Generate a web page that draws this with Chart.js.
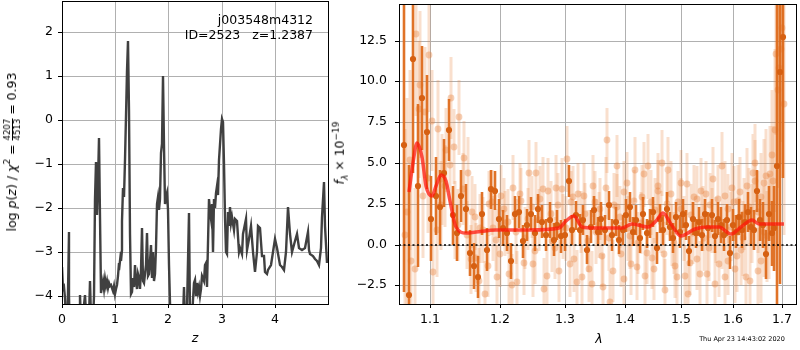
<!DOCTYPE html>
<html>
<head>
<meta charset="utf-8">
<script src="https://cdn.jsdelivr.net/npm/chart.js@4.4.1/dist/chart.umd.min.js"></script>
<style>
  body { margin: 0; background: #fff; }
  #wrap { position: relative; width: 800px; height: 350px; font-family: 'DejaVu Sans', sans-serif; font-size: 12.5px; color: #000; line-height: 1; }
  canvas { position: absolute; top: 0; }
  .lbl { position: absolute; white-space: pre; transform: translate(-50%, -50%); }
  .rot { transform: translate(-50%, -50%) rotate(-90deg); }
  .frac { display: inline-flex; flex-direction: column; font-size: 8.5px; line-height: 8.5px; vertical-align: middle; text-align: center; }
  .frac .den { border-top: 1px solid #000; }
  sup, sub { font-size: 9px; line-height: 0; }
</style>
</head>
<body>
<div id="wrap">
  <canvas id="pz" width="336" height="350" style="left:0"></canvas>
  <canvas id="spec" width="464" height="350" style="left:336px"></canvas>

  <div class="lbl rot" style="left:12px;top:152px">log <i>p</i>(<i>z</i>) / <i>χ</i><sup>2</sup> = <span class="frac"><span>4207</span><span class="den">4513</span></span> = 0.93</div>
  <div class="lbl" style="left:195px;top:338px"><i>z</i></div>
  <div style="position:absolute;right:487px;top:12px;text-align:right;line-height:15px;white-space:pre">j003548m4312
ID=2523   z=1.2387</div>

  <div class="lbl rot" style="left:340px;top:153px"><i>f</i><sub><i>λ</i></sub> × 10<sup>−19</sup></div>
  <div class="lbl" style="left:599px;top:339px"><i>λ</i></div>
  <div class="lbl" style="left:742px;top:339px;font-size:6.5px">Thu Apr 23 14:43:02 2020</div>
</div>

<script>
// ---- redshift probability (left) ----
const zGrid = [
  0.00,0.02,0.04,0.06,0.08,0.10,0.12,0.13,0.14,0.17,
  0.22,0.28,0.33,0.345,0.36,0.40,0.42,0.44,0.47,0.50,
  0.53,0.55,0.58,0.60,0.62,0.635,0.645,0.655,0.665,0.68,
  0.695,0.71,0.73,0.75,0.77,0.79,0.81,0.83,0.85,0.87,
  0.89,0.91,0.93,0.95,0.97,0.99,1.01,1.03,1.05,1.07,
  1.08,1.10,1.11,1.12,1.135,1.15,1.165,1.18,1.20,1.22,
  1.235,1.25,1.27,1.29,1.31,1.33,1.35,1.37,1.39,1.41,
  1.43,1.45,1.47,1.49,1.51,1.53,1.55,1.57,1.59,1.61,
  1.63,1.65,1.67,1.69,1.71,1.73,1.75,1.77,1.79,1.80,
  1.82,1.84,1.86,1.88,1.90,1.92,1.94,1.96,1.98,2.00,
  2.02,2.04,2.06,2.15,2.25,2.28,2.30,2.32,2.35,2.38,
  2.40,2.43,2.46,2.48,2.50,2.52,2.54,2.56,2.58,2.60,
  2.62,2.64,2.66,2.68,2.70,2.72,2.74,2.76,2.78,2.80,
  2.82,2.84,2.86,2.88,2.90,2.92,2.94,2.96,2.98,3.00,
  3.02,3.04,3.06,3.08,3.10,3.12,3.14,3.16,3.18,3.20,
  3.23,3.26,3.29,3.32,3.35,3.38,3.41,3.45,3.48,3.51,
  3.55,3.59,3.63,3.66,3.69,3.73,3.76,3.79,3.82,3.85,
  3.88,3.92,3.96,4.01,4.05,4.09,4.13,4.17,4.21,4.25,
  4.29,4.33,4.38,4.42,4.46,4.51,4.56,4.62,4.65,4.67,
  4.71,4.76,4.80,4.83,4.86,4.89,4.92,4.95,4.99
];
const logPz = [
  -3.33,-3.85,-3.8,-4.05,-4.6,-5.0,-3.9,-2.55,-4.0,-6,
  -7,-6,-4.6,-3.98,-4.6,-4.8,-4.2,-3.98,-4.8,-4.5,
  -3.66,-4.5,-4.6,-4.0,-1.8,-0.96,-2.0,-1.0,-2.16,-1.4,
  -0.41,-2.2,-3.93,-3.8,-3.65,-3.85,-3.62,-3.78,-3.65,-3.82,
  -3.7,-3.78,-3.75,-3.88,-3.78,-3.95,-3.85,-3.75,-3.55,-3.25,
  -3.4,-3.0,-3.2,-2.95,-2.3,-1.55,-1.75,-0.9,0.1,1.1,
  1.8,0.2,-2.6,-3.95,-3.9,-3.6,-3.8,-3.3,-3.65,-3.85,
  -3.5,-3.6,-3.85,-3.4,-2.45,-3.65,-3.7,-3.3,-2.57,-3.55,
  -3.5,-3.2,-2.85,-3.6,-3.0,-3.65,-3.5,-2.9,-1.9,-1.75,
  -2.05,-1.8,-0.75,-0.55,1.0,-0.6,-1.9,-1.75,-1.65,-2.05,
  -3.3,-5,-7,-8,-6,-4.5,-3.8,-4.6,-4.3,-2.12,
  -4.4,-5,-4.1,-3.7,-3.64,-4.0,-3.7,-3.9,-3.8,-4.0,
  -3.85,-3.55,-3.65,-3.3,-3.25,-3.8,-2.8,-1.8,-2.1,-2.25,
  -1.9,-3.0,-1.8,-2.0,-1.65,-1.5,-1.7,-0.9,-0.2,0.03,
  -0.05,-1.0,-2.2,-3.0,-3.05,-2.1,-2.4,-1.97,-2.35,-2.2,
  -2.5,-2.25,-2.3,-3.0,-2.9,-3.05,-2.6,-2.26,-2.95,-2.7,
  -2.4,-3.0,-3.45,-3.0,-2.4,-2.45,-3.1,-3.1,-3.45,-3.5,
  -3.4,-3.3,-3.0,-2.7,-2.9,-3.3,-3.35,-3.41,-3.0,-1.97,
  -2.6,-3.0,-2.75,-2.58,-2.9,-2.95,-2.9,-2.55,-2.95,-3.05,
  -3.1,-3.15,-3.2,-3.3,-2.9,-2.2,-1.42,-2.4,-3.25
];
const zTicks = [0, 1, 2, 3, 4];
const pzTicks = [-4, -3, -2, -1, 0, 1, 2];

// ---- spectrum (right) ----
// combined spectrum (solid points)
const specLam1 = [
  1.066,1.072,1.078,1.084,1.090,1.096,1.102,1.108,1.114,1.120,
  1.126,1.132,1.138,1.144,1.150,1.156,1.162,1.168,1.174,1.180,
  1.186,1.192,1.198,1.204,1.210,1.216,1.222,1.228,1.234,1.240,
  1.246,1.252,1.258,1.264,1.270,1.276,1.282,1.288,1.294,1.300,
  1.306,1.312,1.318,1.324,1.330,1.336,1.342,1.348,1.354,1.360,
  1.366,1.372,1.378,1.384,1.390,1.396,1.402,1.408,1.414,1.420,
  1.426,1.432,1.438,1.444,1.450,1.456,1.462,1.468,1.474,1.480,
  1.486,1.492,1.498,1.504,1.510,1.516,1.522,1.528,1.534,1.540,
  1.546,1.552,1.558,1.564,1.570,1.576,1.582,1.588,1.594,1.600,
  1.606,1.612,1.618,1.624,1.630,1.636,1.642,1.648,1.654,1.660,
  1.666,1.672,1.678,1.684,1.690,1.696,1.702
];
const specFlux1 = [
  6.1,-3.1,11.4,3.6,9.0,6.9,1.6,3.0,2.3,4.4,
  7.0,1.8,0.7,3.0,2.2,-0.5,-1.3,-2.0,1.9,-0.3,
  3.4,3.3,1.6,1.0,0.7,-1.0,1.9,2.0,0.2,1.2,
  1.9,0.7,2.2,1.4,0.6,1.5,0.3,1.2,0.5,0.6,
  3.9,0.9,1.8,0.9,1.5,-0.3,1.1,2.1,0.8,1.6,
  0.9,2.4,0.6,1.4,0.3,0.9,1.8,2.3,0.8,1.5,
  0.4,1.9,0.7,1.3,2.0,-0.2,1.6,0.9,2.2,1.1,
  0.4,1.7,0.8,1.9,1.2,-0.4,1.6,0.7,1.4,0.6,
  1.9,1.0,1.8,0.5,1.6,1.2,0.6,1.5,-0.5,1.2,
  0.8,1.7,0.9,1.4,2.0,1.1,0.9,3.3,1.5,1.2,
  -0.6,1.9,0.7,1.0,4.8,10.6,12.7
];
const specErr1 = [
  9,8,7,5,3.2,3.5,2.6,2.4,2.3,2.1,
  1.9,1.8,1.7,1.6,1.5,1.4,1.4,1.3,1.3,1.3,
  1.2,1.2,1.2,1.1,1.1,1.1,1.1,1.0,1.0,1.0,
  1.0,1.1,0.9,1.0,1.0,1.1,1.0,0.9,1.0,1.0,
  1.0,0.9,0.9,1.0,0.9,0.9,1.0,0.9,0.9,1.0,
  0.9,0.9,1.0,0.9,0.9,0.9,1.0,0.9,0.9,0.9,
  0.9,1.0,0.9,0.9,0.9,1.0,0.9,0.9,1.0,0.9,
  0.9,0.9,1.0,0.9,0.9,0.9,1.0,0.9,0.9,1.0,
  0.9,1.0,1.0,1.0,1.0,1.1,1.0,1.0,1.0,1.0,
  1.0,1.1,1.1,1.1,1.2,1.2,1.2,1.3,1.3,1.4,
  1.5,1.7,2.0,2.6,14,13,8.6
];
// individual beam A (faint points)
const specLam2 = [
  1.069,1.075,1.081,1.087,1.093,1.099,1.105,1.111,1.117,1.123,
  1.129,1.135,1.141,1.147,1.153,1.159,1.165,1.171,1.177,1.183,
  1.189,1.195,1.201,1.207,1.213,1.219,1.225,1.231,1.237,1.243,
  1.249,1.255,1.261,1.267,1.273,1.279,1.285,1.291,1.297,1.303,
  1.309,1.315,1.321,1.327,1.333,1.339,1.345,1.351,1.357,1.363,
  1.369,1.375,1.381,1.387,1.393,1.399,1.405,1.411,1.417,1.423,
  1.429,1.435,1.441,1.447,1.453,1.459,1.465,1.471,1.477,1.483,
  1.489,1.495,1.501,1.507,1.513,1.519,1.525,1.531,1.537,1.543,
  1.549,1.555,1.561,1.567,1.573,1.579,1.585,1.591,1.597,1.603,
  1.609,1.615,1.621,1.627,1.633,1.639,1.645,1.651,1.657,1.663,
  1.669,1.675,1.681,1.687,1.693,1.699,1.705
];
const specFlux2 = [
  2.0,-1.0,12.9,9.8,8.1,11.6,-1.7,7.1,4.0,5.8,
  9.0,1.5,7.8,5.3,4.4,2.0,-0.8,1.0,-3.0,2.5,
  1.0,-2.0,3.0,1.3,-1.8,3.5,-2.3,2.7,0.4,4.4,
  -1.2,4.4,2.8,-2.7,3.3,0.2,3.5,-1.6,1.1,5.25,
  2.6,-0.9,3.1,-2.0,1.9,-1.5,3.6,0.8,2.2,-2.6,
  6.4,-3.5,2.4,4.8,-0.6,3.2,1.0,-1.2,4.6,0.1,
  2.9,-1.9,4.8,-0.8,2.1,3.3,5.0,-2.8,4.6,0.6,
  -1.3,2.6,3.8,-1.9,-3.0,1.8,2.9,-0.9,3.3,0.4,
  -1.8,2.4,4.0,0.9,-1.2,4.8,-2.0,2.2,3.5,-1.5,
  2.7,-0.3,1.9,3.6,-2.2,4.4,5.0,2.0,-1.0,3.8,
  0.5,4.3,3.9,11.7,10.8,13.3,8.6
];
const specErr2 = [
  7,6,5,4.5,4,3.5,3.2,3.0,2.8,2.6,
  2.5,2.4,2.3,2.3,2.2,2.2,2.1,2.1,2.0,2.0,
  2.0,2.0,1.9,2.0,1.9,2.0,1.9,2.0,1.9,2.0,
  2.0,1.9,2.0,1.9,2.0,1.9,2.0,1.9,2.0,2.0,
  1.9,2.0,1.9,2.0,1.9,2.0,1.9,2.0,1.9,2.0,
  2.0,1.9,2.0,1.9,2.0,1.9,2.0,1.9,2.0,1.9,
  2.0,1.9,2.0,1.9,2.0,1.9,2.0,1.9,2.0,1.9,
  2.0,1.9,2.0,1.9,2.0,1.9,2.0,1.9,2.0,2.0,
  2.0,2.0,2.0,2.0,2.0,2.1,2.1,2.1,2.1,2.1,
  2.2,2.2,2.2,2.3,2.3,2.4,2.4,2.5,2.6,2.7,
  2.8,3.0,3.4,5,6,7,8
];
// individual beam B (faint points)
const specLam3 = [
  1.0675,1.0735,1.0795,1.0855,1.0915,1.0975,1.1035,1.1095,1.1155,1.1215,
  1.1275,1.1335,1.1395,1.1455,1.1515,1.1575,1.1635,1.1695,1.1755,1.1815,
  1.1875,1.1935,1.1995,1.2055,1.2115,1.2175,1.2235,1.2295,1.2355,1.2415,
  1.2475,1.2535,1.2595,1.2655,1.2715,1.2775,1.2835,1.2895,1.2955,1.3015,
  1.3075,1.3135,1.3195,1.3255,1.3315,1.3375,1.3435,1.3495,1.3555,1.3615,
  1.3675,1.3735,1.3795,1.3855,1.3915,1.3975,1.4035,1.4095,1.4155,1.4215,
  1.4275,1.4335,1.4395,1.4455,1.4515,1.4575,1.4635,1.4695,1.4755,1.4815,
  1.4875,1.4935,1.4995,1.5055,1.5115,1.5175,1.5235,1.5295,1.5355,1.5415,
  1.5475,1.5535,1.5595,1.5655,1.5715,1.5775,1.5835,1.5895,1.5955,1.6015,
  1.6075,1.6135,1.6195,1.6255,1.6315,1.6375,1.6435,1.6495,1.6555,1.6615,
  1.6675,1.6735,1.6795,1.6855,1.6915,1.6975
];
const specFlux3 = [
  0.6,5.2,-1.5,8.3,3.0,4.1,7.6,0.9,2.4,3.6,
  4.9,6.0,1.2,3.4,0.6,-0.9,1.7,-2.2,0.9,-1.3,
  2.6,0.3,-0.6,2.2,1.4,-2.5,0.8,3.1,-1.1,1.6,
  2.3,-0.4,1.5,3.4,-1.9,1.9,-0.2,2.4,3.4,1.0,
  -1.2,2.9,-2.3,1.4,3.0,0.2,-2.4,2.6,1.2,-0.7,
  3.5,0.4,-1.6,2.3,1.7,-2.1,3.8,0.5,2.7,-1.4,
  1.3,4.3,-0.5,2.6,-1.5,3.6,1.4,-0.6,2.5,3.1,
  0.1,-2.0,2.2,1.0,3.7,-1.1,0.7,2.8,-1.8,1.6,
  3.1,-0.2,1.5,-2.4,2.8,0.6,3.0,-1.0,1.1,2.6,
  -0.7,3.2,0.4,-2.0,2.3,1.3,3.9,-1.6,2.9,0.8,
  4.2,1.1,5.5,7.0,9.5,12.0
];
const specErr3 = [
  6.5,5.5,5,4.2,3.8,3.4,3.1,2.9,2.7,2.5,
  2.4,2.3,2.2,2.2,2.1,2.1,2.0,2.0,2.0,1.9,
  2.0,1.9,2.0,1.9,2.0,1.9,2.0,1.9,2.0,1.9,
  1.9,2.0,1.9,2.0,1.9,2.0,1.9,2.0,1.9,2.0,
  2.0,1.9,2.0,1.9,2.0,1.9,2.0,1.9,2.0,1.9,
  1.9,2.0,1.9,2.0,1.9,2.0,1.9,2.0,1.9,2.0,
  1.9,2.0,1.9,2.0,1.9,2.0,1.9,2.0,1.9,2.0,
  1.9,2.0,1.9,2.0,1.9,2.0,1.9,2.0,2.0,2.0,
  2.0,2.0,2.0,2.0,2.1,2.1,2.1,2.1,2.1,2.2,
  2.2,2.2,2.3,2.3,2.4,2.4,2.5,2.6,2.7,2.8,
  2.9,3.2,4,5,6,7
];
// best-fit template
const modelLam = [
  1.0724,1.077,1.083,1.089,1.095,1.1025,1.109,1.116,1.122,1.1274,
  1.1366,1.1506,1.1649,1.1937,1.2434,1.2902,1.3009,1.3143,1.3277,1.3497,
  1.3944,1.4116,1.4408,1.4555,1.4675,1.4825,1.5008,1.5257,1.5508,1.5733,
  1.5958,1.6155,1.6389,1.6524,1.6796,1.7037
];
const modelFlux = [
  3.2,5.0,6.2,5.4,3.6,2.97,3.6,4.28,3.9,2.67,
  1.05,0.71,0.75,0.89,0.89,0.99,1.45,1.76,1.05,0.99,
  0.99,1.25,1.05,1.45,1.92,1.25,0.55,0.95,1.09,1.05,
  0.65,1.05,1.50,1.29,1.29,1.25
];
const lamTicks = [1.1, 1.2, 1.3, 1.4, 1.5, 1.6, 1.7];
const fluxTicks = [-2.5, 0, 2.5, 5, 7.5, 10, 12.5];

// axis ranges
const Z_MIN = 0, Z_MAX = 5.0, PZ_MIN = -4.18, PZ_MAX = 2.70;
const LAM_MIN = 1.059, LAM_MAX = 1.7294, F_MIN = -3.64, F_MAX = 14.75;

Chart.defaults.font.family = "'DejaVu Sans', sans-serif";
Chart.defaults.font.size = 12.5;
Chart.defaults.color = '#000';

const fmt = (v, d) => v.toFixed(d).replace('-', '\u2212');
const toPts = (xs, ys) => xs.map((x, i) => ({ x: x, y: ys[i] }));
function errSegments(lam, flux, err) {
  const out = [];
  lam.forEach((l, i) => {
    out.push({ x: l, y: flux[i] - err[i] }, { x: l, y: flux[i] + err[i] }, { x: l, y: null });
  });
  return out;
}

const framePlugin = {
  id: 'frame',
  afterDraw(chart) {
    const { ctx, chartArea: a } = chart;
    ctx.save();
    ctx.strokeStyle = '#000';
    ctx.lineWidth = 1;
    ctx.strokeRect(Math.round(a.left) + 0.5, Math.round(a.top) + 0.5, Math.round(a.width), Math.round(a.height));
    ctx.restore();
  }
};

const grid = { color: '#b0b0b0', lineWidth: 1, tickColor: '#000', tickLength: 4 };
// fixed axis boxes, no extra room for overhanging labels
const fitX = s => { s.height = 46; s.paddingLeft = 0; s.paddingRight = 0; };
const fitY = w => s => { s.width = w; s.paddingTop = 0; s.paddingBottom = 0; };

new Chart(document.getElementById('pz'), {
  type: 'scatter',
  data: {
    datasets: [{
      data: toPts(zGrid, logPz),
      showLine: true,
      borderColor: '#404040',
      borderWidth: 2.4,
      pointRadius: 0,
      tension: 0,
      clip: 0
    }]
  },
  options: {
    responsive: false,
    animation: false,
    events: [],
    layout: { padding: { top: 1, right: 8, bottom: 0, left: 0 } },
    plugins: { legend: { display: false }, tooltip: { enabled: false } },
    scales: {
      x: {
        type: 'linear', min: Z_MIN, max: Z_MAX, alignToPixels: true,
        afterBuildTicks: s => { s.ticks = zTicks.map(v => ({ value: v })); },
        afterFit: fitX,
        ticks: { callback: v => fmt(v, 0), padding: 4, maxRotation: 0, autoSkip: false },
        grid: grid, border: { display: false }
      },
      y: {
        min: PZ_MIN, max: PZ_MAX, alignToPixels: true,
        afterBuildTicks: s => { s.ticks = pzTicks.map(v => ({ value: v })); },
        afterFit: fitY(62),
        ticks: { callback: v => fmt(v, 0), padding: 5, autoSkip: false },
        grid: grid, border: { display: false }
      }
    }
  },
  plugins: [framePlugin]
});

const darkPt = 'rgb(214,96,18)';
const darkBar = 'rgba(222,108,28,0.95)';
const faintPt = 'rgba(232,130,60,0.38)';
const faintBar = 'rgba(232,130,60,0.26)';
new Chart(document.getElementById('spec'), {
  type: 'scatter',
  data: {
    datasets: [
      { // zero line
        data: [{ x: LAM_MIN, y: 0 }, { x: LAM_MAX, y: 0 }],
        showLine: true, borderColor: '#000', borderWidth: 1.6, borderDash: [2, 2.5], pointRadius: 0
      },
      { // model
        data: toPts(modelLam, modelFlux),
        showLine: true, borderColor: 'rgba(255,20,10,0.72)', borderWidth: 3.5, pointRadius: 0,
        cubicInterpolationMode: 'monotone'
      },
      { // combined points
        data: toPts(specLam1, specFlux1),
        pointRadius: 3.1, pointBackgroundColor: darkPt, pointBorderWidth: 0, clip: 0
      },
      { // combined errors
        data: errSegments(specLam1, specFlux1, specErr1),
        showLine: true, spanGaps: false, borderColor: darkBar, borderWidth: 2.6, pointRadius: 0, clip: 0
      },
      { // beam A points
        data: toPts(specLam2, specFlux2),
        pointRadius: 3.4, pointBackgroundColor: faintPt, pointBorderWidth: 0, clip: 0
      },
      { // beam A errors
        data: errSegments(specLam2, specFlux2, specErr2),
        showLine: true, spanGaps: false, borderColor: faintBar, borderWidth: 3, pointRadius: 0, clip: 0
      },
      { // beam B points
        data: toPts(specLam3, specFlux3),
        pointRadius: 3.4, pointBackgroundColor: faintPt, pointBorderWidth: 0, clip: 0
      },
      { // beam B errors
        data: errSegments(specLam3, specFlux3, specErr3),
        showLine: true, spanGaps: false, borderColor: faintBar, borderWidth: 3, pointRadius: 0, clip: 0
      }
    ]
  },
  options: {
    responsive: false,
    animation: false,
    events: [],
    layout: { padding: { top: 1, right: 1, bottom: 0, left: 0 } },
    plugins: { legend: { display: false }, tooltip: { enabled: false } },
    scales: {
      x: {
        type: 'logarithmic', min: LAM_MIN, max: LAM_MAX, alignToPixels: true,
        afterBuildTicks: s => { s.ticks = lamTicks.map(v => ({ value: v })); },
        afterFit: fitX,
        ticks: { callback: v => fmt(v, 1), padding: 4, maxRotation: 0, autoSkip: false },
        grid: grid, border: { display: false }
      },
      y: {
        min: F_MIN, max: F_MAX, alignToPixels: true,
        afterBuildTicks: s => { s.ticks = fluxTicks.map(v => ({ value: v })); },
        afterFit: fitY(63),
        ticks: { callback: v => fmt(v, 1), padding: 8, autoSkip: false },
        grid: grid, border: { display: false }
      }
    }
  },
  plugins: [framePlugin]
});
</script>
</body>
</html>
